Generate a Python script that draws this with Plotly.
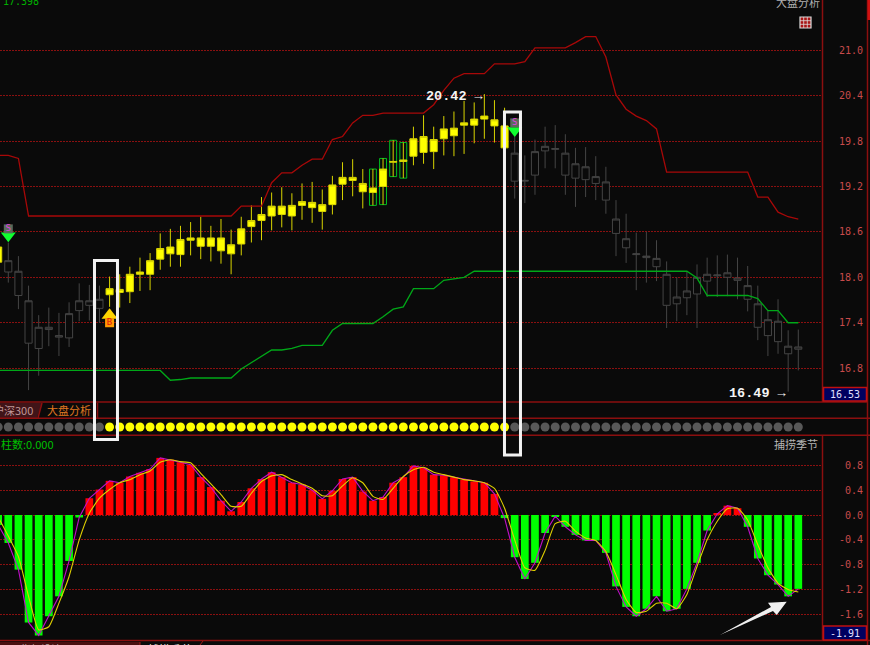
import plotly.graph_objects as go

W, H = 870, 645
index = list(range(-1, 79))

high = [18.49,18.46,18.28,17.89,17.50,17.60,17.53,17.67,17.92,17.90,17.89,18.01,18.04,18.14,18.26,18.32,18.58,18.64,18.68,18.73,
        18.80,18.68,18.77,18.63,18.80,18.95,19.06,19.12,19.19,19.11,19.24,19.26,19.16,19.34,19.52,19.56,19.43,19.43,19.57,19.81,
        19.78,19.99,20.14,19.99,20.13,20.19,20.33,20.31,20.42,20.34,20.24,19.86,19.61,19.82,19.99,20.01,19.89,19.71,19.72,19.60,
        19.46,19.02,18.84,18.59,18.60,18.49,18.21,18.00,18.07,18.17,18.26,18.29,18.30,18.26,18.15,17.89,17.57,17.71,17.30,17.31]
body_top = [18.40,18.22,18.08,17.69,17.34,17.34,17.23,17.52,17.69,17.69,17.71,17.85,17.84,18.04,18.07,18.22,18.38,18.40,18.50,18.52,
            18.52,18.52,18.52,18.43,18.64,18.75,18.83,18.94,18.94,18.95,19.00,18.99,18.96,19.22,19.32,19.32,19.24,19.18,19.43,19.53,
            19.55,19.83,19.86,19.82,19.96,19.97,20.04,20.09,20.13,20.08,20.00,19.64,19.28,19.66,19.73,19.70,19.64,19.50,19.46,19.33,
            19.26,18.77,18.51,18.31,18.28,18.25,18.04,17.74,17.82,18.00,18.04,18.03,18.06,17.99,17.89,17.65,17.44,17.42,17.09,17.08]
body_bottom = [18.20,18.07,17.76,17.13,17.06,17.31,17.21,17.20,17.56,17.63,17.59,17.77,17.80,17.81,18.04,18.04,18.24,18.31,18.30,18.49,
               18.41,18.41,18.35,18.31,18.44,18.67,18.75,18.81,18.83,18.81,18.95,18.92,18.87,18.96,19.23,19.28,19.13,19.12,19.20,19.52,
               19.53,19.60,19.65,19.66,19.83,19.87,20.01,20.01,20.09,20.00,19.71,19.27,19.27,19.35,19.67,19.69,19.35,19.31,19.29,19.24,
               19.02,18.58,18.39,18.30,18.26,18.14,17.63,17.65,17.73,17.78,17.95,18.02,18.00,17.96,17.71,17.34,17.23,17.15,16.99,17.05]
low = [18.03,17.93,17.58,16.51,16.70,17.09,16.96,17.08,17.42,17.43,17.40,17.61,17.60,17.66,17.82,17.83,18.10,18.14,18.14,18.29,
       18.24,18.21,18.18,18.04,18.29,18.46,18.49,18.62,18.66,18.62,18.76,18.72,18.63,18.83,19.02,19.07,18.91,18.95,18.96,19.33,
       19.31,19.48,19.50,19.43,19.61,19.60,19.63,19.77,19.83,19.78,19.68,19.04,18.98,19.09,19.44,19.44,19.09,18.93,19.06,19.02,
       18.84,18.28,18.19,17.83,17.93,17.95,17.33,17.42,17.50,17.33,17.74,17.74,17.75,17.71,17.55,17.17,16.96,16.99,16.49,16.77]

upper_band = [19.61,19.61,19.57,18.81,18.81,18.81,18.81,18.81,18.81,18.81,18.81,18.81,18.81,18.81,18.81,18.81,18.81,18.81,18.81,18.81,
              18.81,18.81,18.81,18.81,18.94,18.94,18.94,19.25,19.38,19.38,19.48,19.56,19.56,19.82,19.86,20.04,20.14,20.14,20.17,20.17,
              20.17,20.17,20.17,20.28,20.47,20.63,20.69,20.69,20.69,20.82,20.82,20.82,20.85,21.03,21.03,21.03,21.03,21.10,21.18,21.18,
              20.91,20.41,20.22,20.13,20.07,19.96,19.39,19.39,19.39,19.39,19.39,19.39,19.39,19.39,19.39,19.06,19.06,18.86,18.80,18.77]
lower_band = [16.77,16.77,16.77,16.77,16.77,16.77,16.77,16.77,16.77,16.77,16.77,16.77,16.77,16.77,16.77,16.77,16.77,16.64,16.65,16.67,
              16.67,16.67,16.67,16.67,16.79,16.87,16.95,17.04,17.04,17.06,17.10,17.10,17.10,17.30,17.39,17.39,17.39,17.39,17.48,17.58,
              17.61,17.85,17.85,17.85,17.96,17.98,18.00,18.08,18.08,18.08,18.08,18.08,18.08,18.08,18.08,18.08,18.08,18.08,18.08,18.08,
              18.08,18.08,18.08,18.08,18.08,18.08,18.08,18.08,18.08,17.99,17.76,17.76,17.76,17.76,17.76,17.72,17.56,17.56,17.40,17.40]

hist = [-0.16,-0.45,-0.88,-1.73,-1.94,-1.63,-1.31,-0.74,-0.04,0.27,0.41,0.55,0.52,0.62,0.68,0.74,0.92,0.89,0.85,0.81,
        0.61,0.45,0.23,0.06,0.21,0.43,0.58,0.69,0.61,0.52,0.49,0.40,0.26,0.39,0.58,0.61,0.38,0.23,0.29,0.52,
        0.61,0.79,0.76,0.65,0.64,0.61,0.57,0.54,0.52,0.34,-0.05,-0.68,-1.03,-0.77,-0.29,-0.02,-0.19,-0.32,-0.41,-0.41,
        -0.61,-1.15,-1.48,-1.63,-1.51,-1.31,-1.55,-1.51,-1.19,-0.77,-0.25,0.02,0.15,0.11,-0.19,-0.70,-0.97,-1.12,-1.31,-1.19]
signal = [-0.03,-0.34,-0.67,-1.31,-1.85,-1.80,-1.42,-0.99,-0.40,0.03,0.27,0.41,0.52,0.57,0.65,0.71,0.85,0.89,0.86,0.84,
          0.67,0.50,0.33,0.14,0.14,0.35,0.54,0.63,0.65,0.57,0.50,0.43,0.31,0.31,0.47,0.60,0.52,0.30,0.25,0.43,
          0.62,0.73,0.77,0.69,0.65,0.61,0.57,0.55,0.52,0.43,0.11,-0.40,-0.85,-0.89,-0.57,-0.14,-0.10,-0.26,-0.37,-0.41,
          -0.59,-0.96,-1.36,-1.57,-1.55,-1.42,-1.42,-1.51,-1.28,-0.83,-0.40,-0.10,0.10,0.11,-0.08,-0.48,-0.85,-1.10,-1.20,-1.24]

framed = [36, 37, 38, 39]
signal_days = list(range(10, 50))
bull_days = [-1] + signal_days
sell_signals = [(0, 18.55, 18.64), (50, 19.94, 20.04)]
buy_signals = [(10, 17.50, 17.40)]
price_ticks = [21.0, 20.4, 19.8, 19.2, 18.6, 18.0, 17.4, 16.8]
macd_ticks = [0.8, 0.4, 0.0, -0.4, -0.8, -1.2, -1.6]
price_tick_text = ["21.0", "20.4", "19.8", "19.2", "18.6", "18.0", "17.4", "16.8"]
macd_tick_text = ["0.8", "0.4", "0.0", "-0.4", "-0.8", "-1.2", "-1.6"]

BG = "#0a0a0a"
RULE = "#8b0f0f"
GRID = "#8a1010"
TICK = "#c84a4a"
MONO = "DejaVu Sans Mono"
CJK = "Noto Sans CJK SC"
DOTS = "1.5px,1.5px"


def fx(p):
    return p / W


def fy(p):
    return 1 - p / H


def subset(values, keep):
    return [v for i, v in zip(index, values) if i in keep]


yellow_set = set(bull_days)
gray_set = set(index) - yellow_set
fig = go.Figure()

fig.add_trace(go.Bar(x=framed, base=subset(low, framed),
                     y=[h - l for h, l in zip(subset(high, framed), subset(low, framed))],
                     width=0.68, marker=dict(color="rgba(0,0,0,0)", line=dict(color="#00c020", width=1)),
                     hoverinfo="skip", yaxis="y"))

for keep, line_c, fill_c in [(gray_set, "#454545", BG), (yellow_set, "#d8d400", "#ffff00")]:
    fig.add_trace(go.Candlestick(
        x=[i for i in index if i in keep],
        open=subset(body_bottom, keep), close=subset(body_top, keep),
        high=subset(high, keep), low=subset(low, keep),
        increasing=dict(line=dict(color=line_c, width=1), fillcolor=fill_c),
        decreasing=dict(line=dict(color=line_c, width=1), fillcolor=fill_c),
        whiskerwidth=0, hoverinfo="skip", yaxis="y"))

fig.add_trace(go.Scatter(x=index, y=upper_band, mode="lines", line=dict(color="#a80808", width=1.3), hoverinfo="skip", yaxis="y"))
fig.add_trace(go.Scatter(x=index, y=lower_band, mode="lines", line=dict(color="#00a818", width=1.3), hoverinfo="skip", yaxis="y"))

fig.add_trace(go.Scatter(x=[s[0] for s in sell_signals], y=[s[1] for s in sell_signals], mode="markers",
                         marker=dict(symbol="triangle-down", size=13, color="#10ff30", line=dict(width=0)), hoverinfo="skip", yaxis="y"))
fig.add_trace(go.Scatter(x=[s[0] for s in sell_signals], y=[s[2] for s in sell_signals], mode="markers+text",
                         marker=dict(symbol="square", size=9, color="#5a6a5a", line=dict(width=0)),
                         text=["S"] * len(sell_signals), textposition="middle center",
                         textfont=dict(family=MONO, size=9, color="#e040e0"), hoverinfo="skip", yaxis="y"))
fig.add_trace(go.Scatter(x=[b[0] for b in buy_signals], y=[b[1] for b in buy_signals], mode="markers",
                         marker=dict(symbol="triangle-up", size=14, color="#ffd400", line=dict(width=0)), hoverinfo="skip", yaxis="y"))
fig.add_trace(go.Scatter(x=[b[0] for b in buy_signals], y=[b[2] for b in buy_signals], mode="markers+text",
                         marker=dict(symbol="square", size=9, color="#ff9a00", line=dict(width=0)),
                         text=["B"] * len(buy_signals), textposition="middle center",
                         textfont=dict(family=MONO, size=9, color="#e01010"), hoverinfo="skip", yaxis="y"))

fig.add_trace(go.Scatter(x=index, y=[0] * len(index), mode="markers",
                         marker=dict(size=9, line=dict(width=0),
                                     color=["#ffff00" if i in signal_days else "#585858" for i in index]),
                         hoverinfo="skip", yaxis="y2"))

fig.add_trace(go.Bar(x=index, y=hist, width=0.76,
                     marker=dict(color=["#ff0000" if v > 0 else "#00ff00" for v in hist], line=dict(width=0)),
                     hoverinfo="skip", yaxis="y3"))
fig.add_trace(go.Scatter(x=index, y=hist, mode="lines", line=dict(color="#c010c8", width=1.1), hoverinfo="skip", yaxis="y3"))
fig.add_trace(go.Scatter(x=index, y=signal, mode="lines", line=dict(color="#e0d000", width=1.1, shape="spline", smoothing=0.5),
                         hoverinfo="skip", yaxis="y3"))

shapes = []


def rule(x0, y0, x1, y1, color=RULE, width=1.5):
    shapes.append(dict(type="line", xref="paper", yref="paper", x0=fx(x0), x1=fx(x1), y0=fy(y0), y1=fy(y1),
                       line=dict(color=color, width=width)))


def panel_rect(x0, y0, x1, y1, fill, line_color, width=1.0):
    shapes.append(dict(type="rect", xref="paper", yref="paper", x0=fx(x0), x1=fx(x1), y0=fy(y0), y1=fy(y1),
                       fillcolor=fill, line=dict(color=line_color, width=width)))


def poly(points, fill, line_color=None, width=0):
    d = "M " + " L ".join(f"{fx(a):.5f},{fy(b):.5f}" for a, b in points) + " Z"
    shapes.append(dict(type="path", xref="paper", yref="paper", path=d, fillcolor=fill,
                       line=dict(color=line_color or fill, width=width)))


poly([(0, 403), (42, 403), (37, 418), (0, 418)], "#401418")
rule(0, 402, 867, 402)
rule(0, 418.3, 870, 418.3)
rule(0, 435.3, 870, 435.3)
rule(0, 640.5, 870, 640.5)
rule(822.5, 0, 822.5, 402)
rule(822.5, 435.3, 822.5, 640.5)
rule(867.5, 0, 867.5, 645)
rule(868.8, 0, 868.8, 20, "#d01010", 2.4)
rule(97.5, 403, 97.5, 418)
rule(42, 403, 38, 418)
poly([(0, 642), (140, 642), (140, 645), (0, 645)], "#4a1010")
rule(140, 642, 140, 645, "#a01818", 1)
rule(200, 645, 203, 641, "#a01818", 1)

panel_rect(823.5, 387.5, 866.5, 401, "#000060", "#c01010", 1.5)
panel_rect(823.5, 626, 866.5, 640, "#000060", "#c01010", 1.5)

panel_rect(800, 17, 811, 28, "#a81414", "#dcdcdc", 1.2)
for off in (3.7, 7.3):
    rule(800 + off, 17, 800 + off, 28, "#dcdcdc", 0.8)
    rule(800, 17 + off, 811, 17 + off, "#dcdcdc", 0.8)

poly([(720, 635), (771, 607), (768, 602.7), (786.7, 601.7), (776.7, 615), (773, 611)], "#f0f0f0")

for x0, x1, y0, y1 in [(8.51, 10.78, 260.5, 439.5), (48.99, 50.57, 112, 455)]:
    shapes.append(dict(type="rect", xref="x", yref="paper", x0=x0, x1=x1, y0=fy(y0), y1=fy(y1),
                       line=dict(color="#f2f2f2", width=3)))

ann = []


def label(text, x, y, size, color, family=CJK, anchor="left", yanchor="middle"):
    ann.append(dict(text=text, xref="paper", yref="paper", x=fx(x), y=fy(y), xanchor=anchor, yanchor=yanchor,
                    showarrow=False, borderpad=0, font=dict(family=family, size=size, color=color)))


for value, text in zip(price_ticks, price_tick_text):
    ann.append(dict(text=text, xref="paper", yref="y", x=fx(865), y=value, xanchor="right", yanchor="middle",
                    showarrow=False, font=dict(family=MONO, size=10, color=TICK)))
for value, text in zip(macd_ticks, macd_tick_text):
    ann.append(dict(text=text, xref="paper", yref="y3", x=fx(865), y=value, xanchor="right", yanchor="middle",
                    showarrow=False, font=dict(family=MONO, size=10, color=TICK)))

peak = index[high.index(max(high))]
trough = index[low.index(min(low))]
ann.append(dict(text=f"<b>{max(high):.2f} →</b>", xref="x", yref="y", x=peak, y=max(high), xanchor="right", yanchor="middle",
                xshift=2, yshift=-2, showarrow=False, font=dict(family="Liberation Mono", size=13.5, color="#f4f4f4")))
ann.append(dict(text=f"<b>{min(low):.2f} →</b>", xref="x", yref="y", x=trough, y=min(low), xanchor="right", yanchor="middle",
                xshift=1, yshift=-2, showarrow=False, font=dict(family="Liberation Mono", size=13.5, color="#f4f4f4")))

label("17.398", 2, 1.5, 10, "#00b000", MONO)
label("大盘分析", 821, 1.5, 11, "#b0b0b0", anchor="right")
label("沪深300", 33.5, 410, 11, "#c09898", anchor="right")
label("大盘分析", 46, 410, 11, "#e07820")
label("柱数:0.000", 0, 444, 11, "#00c000")
label("捕捞季节", 819, 444, 11, "#b4b4b4", anchor="right")
label("16.53", 845, 394, 10, "#e0e0ff", MONO, anchor="center")
label("-1.91", 845, 633, 10, "#e0e0ff", MONO, anchor="center")
label("指标设计", 20, 639.5, 10, "#b8a8a8", yanchor="top")
label("捕捞季节", 147, 639.5, 11, "#f0f0f0", yanchor="top")

fig.update_layout(
    width=W, height=H, autosize=False, showlegend=False, barmode="overlay", boxgap=0.3, boxgroupgap=0,
    margin=dict(l=0, r=0, t=0, b=0), paper_bgcolor=BG, plot_bgcolor=BG,
    xaxis=dict(domain=[0, fx(822)], range=[-0.8195, 80.34], visible=False, rangeslider=dict(visible=False), fixedrange=True),
    yaxis=dict(domain=[fy(402), 1], range=[16.353, 21.663], tickvals=price_ticks, showticklabels=False, ticks="",
               showgrid=True, griddash=DOTS, gridcolor=GRID, gridwidth=1, zeroline=False, showline=False),
    yaxis2=dict(domain=[fy(435), fy(419)], range=[-1, 1], visible=False, anchor="x"),
    yaxis3=dict(domain=[fy(640), fy(436)], range=[-2.0135, 1.2726], anchor="x", tickvals=macd_ticks, showticklabels=False,
                ticks="", showgrid=True, griddash=DOTS, gridcolor=GRID, gridwidth=1, zeroline=False, showline=False),
    shapes=shapes, annotations=ann, font=dict(family=CJK),
)
fig.write_html("out.html", config=dict(displayModeBar=False),
               post_script="document.body.style.margin='0';document.body.style.overflow='hidden';")
